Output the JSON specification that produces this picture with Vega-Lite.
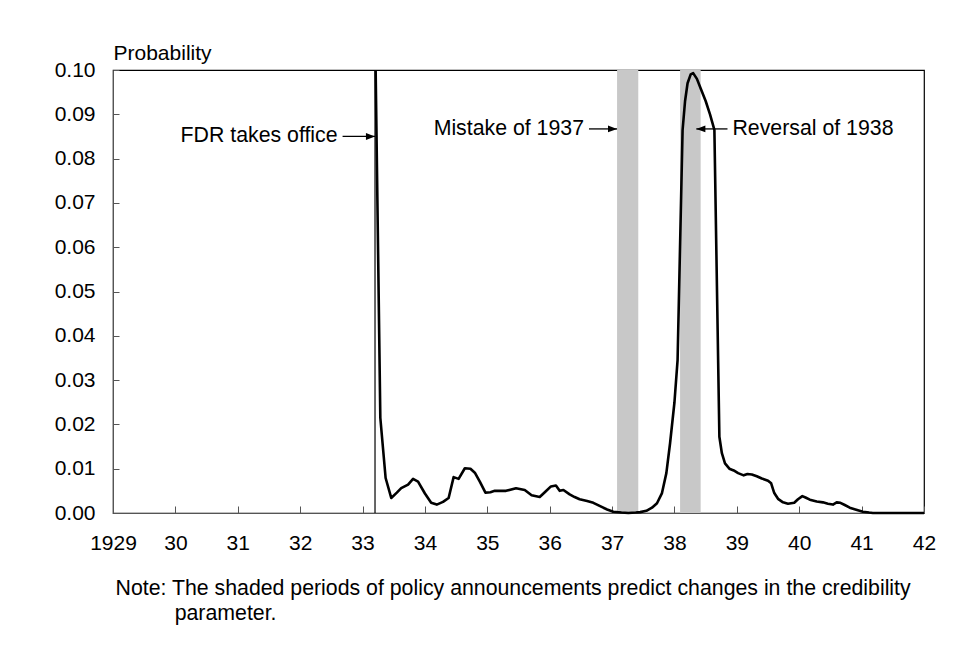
{
  "$schema": "https://vega.github.io/schema/vega-lite/v6.json",
  "autosize": {"type": "none"},
  "width": 811,
  "height": 443,
  "padding": {"left": 113, "top": 70, "right": 50, "bottom": 142},
  "background": "white",
  "config": {
    "font": "Liberation Sans",
    "view": {"stroke": "#000", "strokeWidth": 1.2},
    "axis": {
      "labelFont": "Liberation Sans",
      "titleFont": "Liberation Sans",
      "labelFontSize": 21,
      "titleFontSize": 21,
      "titleFontWeight": "normal",
      "labelColor": "#000",
      "titleColor": "#000",
      "domainColor": "#555",
      "tickColor": "#555",
      "grid": false
    }
  },
  "datasets": {
    "series": [
      {"year": 1933.21, "p": 0.100},
      {"year": 1933.285, "p": 0.0215},
      {"year": 1933.37, "p": 0.0079},
      {"year": 1933.46, "p": 0.0034},
      {"year": 1933.55, "p": 0.0046},
      {"year": 1933.62, "p": 0.0056},
      {"year": 1933.73, "p": 0.0064},
      {"year": 1933.81, "p": 0.0077},
      {"year": 1933.89, "p": 0.0071},
      {"year": 1934.00, "p": 0.0044},
      {"year": 1934.10, "p": 0.0023},
      {"year": 1934.19, "p": 0.0019},
      {"year": 1934.29, "p": 0.0025},
      {"year": 1934.38, "p": 0.0034},
      {"year": 1934.46, "p": 0.0081},
      {"year": 1934.54, "p": 0.0077},
      {"year": 1934.64, "p": 0.0101},
      {"year": 1934.73, "p": 0.0100},
      {"year": 1934.80, "p": 0.0091},
      {"year": 1934.88, "p": 0.0071},
      {"year": 1934.97, "p": 0.0046},
      {"year": 1935.05, "p": 0.0047},
      {"year": 1935.12, "p": 0.0050},
      {"year": 1935.30, "p": 0.0050},
      {"year": 1935.46, "p": 0.0056},
      {"year": 1935.60, "p": 0.0052},
      {"year": 1935.71, "p": 0.0040},
      {"year": 1935.84, "p": 0.0036},
      {"year": 1935.93, "p": 0.0048},
      {"year": 1936.02, "p": 0.0060},
      {"year": 1936.10, "p": 0.0062},
      {"year": 1936.16, "p": 0.0050},
      {"year": 1936.22, "p": 0.0052},
      {"year": 1936.32, "p": 0.0042},
      {"year": 1936.40, "p": 0.0036},
      {"year": 1936.48, "p": 0.0031},
      {"year": 1936.60, "p": 0.0027},
      {"year": 1936.70, "p": 0.0023},
      {"year": 1936.80, "p": 0.0016},
      {"year": 1936.92, "p": 0.0008},
      {"year": 1937.02, "p": 0.0003},
      {"year": 1937.15, "p": 0.0001},
      {"year": 1937.26, "p": 0.0000},
      {"year": 1937.38, "p": 0.0001},
      {"year": 1937.45, "p": 0.0002},
      {"year": 1937.55, "p": 0.0005},
      {"year": 1937.64, "p": 0.0012},
      {"year": 1937.72, "p": 0.0022},
      {"year": 1937.80, "p": 0.0045},
      {"year": 1937.87, "p": 0.0090},
      {"year": 1937.93, "p": 0.0158},
      {"year": 1938.00, "p": 0.0250},
      {"year": 1938.05, "p": 0.0345},
      {"year": 1938.13, "p": 0.0864},
      {"year": 1938.17, "p": 0.0930},
      {"year": 1938.21, "p": 0.0970},
      {"year": 1938.26, "p": 0.0990},
      {"year": 1938.30, "p": 0.0993},
      {"year": 1938.36, "p": 0.0980},
      {"year": 1938.43, "p": 0.0955},
      {"year": 1938.50, "p": 0.0930},
      {"year": 1938.57, "p": 0.0900},
      {"year": 1938.64, "p": 0.0865},
      {"year": 1938.72, "p": 0.0172},
      {"year": 1938.76, "p": 0.0135},
      {"year": 1938.81, "p": 0.0112},
      {"year": 1938.88, "p": 0.0100},
      {"year": 1938.95, "p": 0.0096},
      {"year": 1939.02, "p": 0.0090},
      {"year": 1939.11, "p": 0.0085},
      {"year": 1939.17, "p": 0.0088},
      {"year": 1939.24, "p": 0.0087},
      {"year": 1939.32, "p": 0.0083},
      {"year": 1939.40, "p": 0.0078},
      {"year": 1939.50, "p": 0.0073},
      {"year": 1939.55, "p": 0.0067},
      {"year": 1939.60, "p": 0.0045},
      {"year": 1939.66, "p": 0.0032},
      {"year": 1939.74, "p": 0.0024},
      {"year": 1939.82, "p": 0.0021},
      {"year": 1939.92, "p": 0.0023},
      {"year": 1939.98, "p": 0.0031},
      {"year": 1940.05, "p": 0.0038},
      {"year": 1940.10, "p": 0.0035},
      {"year": 1940.17, "p": 0.0030},
      {"year": 1940.28, "p": 0.0026},
      {"year": 1940.38, "p": 0.0024},
      {"year": 1940.46, "p": 0.0021},
      {"year": 1940.54, "p": 0.0019},
      {"year": 1940.60, "p": 0.0024},
      {"year": 1940.66, "p": 0.0023},
      {"year": 1940.73, "p": 0.0018},
      {"year": 1940.81, "p": 0.0012},
      {"year": 1940.90, "p": 0.0008},
      {"year": 1941.02, "p": 0.0003},
      {"year": 1941.12, "p": 0.0001},
      {"year": 1941.18, "p": 0.0},
      {"year": 1942.00, "p": 0.0}
    ],
    "bands": [
      {"start": 1937.08, "end": 1937.42},
      {"start": 1938.09, "end": 1938.42}
    ],
    "events": [
      {"year": 1933.2}
    ],
    "notesRight": [
      {"label": "FDR takes office", "tail": 1932.68, "tip": 1933.2, "p": 0.085},
      {"label": "Mistake of 1937", "tail": 1936.63, "tip": 1937.08, "p": 0.0867}
    ],
    "notesLeft": [
      {"label": "Reversal of 1938", "tail": 1938.85, "tip": 1938.35, "p": 0.0867}
    ]
  },
  "layer": [
    {
      "data": {"name": "bands"},
      "mark": {"type": "rect", "color": "#c8c8c8"},
      "encoding": {
        "x": {"field": "start", "type": "quantitative", "scale": {"domain": [1929, 1942], "nice": false, "zero": false}},
        "x2": {"field": "end"}
      }
    },
    {
      "data": {"name": "events"},
      "mark": {"type": "rule", "color": "#000", "strokeWidth": 1.2},
      "encoding": {
        "x": {"field": "year", "type": "quantitative"}
      }
    },
    {
      "data": {"name": "series"},
      "mark": {"type": "line", "color": "#000", "strokeWidth": 2.6, "strokeJoin": "round"},
      "encoding": {
        "x": {
          "field": "year", "type": "quantitative",
          "scale": {"domain": [1929, 1942], "nice": false, "zero": false},
          "axis": {
            "values": [1929, 1930, 1931, 1932, 1933, 1934, 1935, 1936, 1937, 1938, 1939, 1940, 1941, 1942],
            "labelExpr": "datum.value == 1929 ? '1929' : substring(toString(datum.value), 2)",
            "tickSize": -7,
            "labelPadding": 26,
            "labelFlush": false,
            "labelOverlap": false,
            "title": ["Note: The shaded periods of policy announcements predict changes in the credibility", "\u200b\u00a0\u00a0\u00a0\u00a0\u00a0\u00a0\u00a0\u00a0\u00a0\u00a0parameter."],
            "titleFontSize": 21.3,
            "titleAngle": 0,
            "titleAlign": "left",
            "titleBaseline": "alphabetic",
            "titleX": 2,
            "titleY": 81,
            "titleLineHeight": 25
          }
        },
        "y": {
          "field": "p", "type": "quantitative",
          "scale": {"domain": [0, 0.1], "nice": false},
          "axis": {
            "values": [0, 0.01, 0.02, 0.03, 0.04, 0.05, 0.06, 0.07, 0.08, 0.09, 0.1],
            "format": ".2f",
            "tickSize": -6,
            "labelPadding": 24,
            "labelFlush": false,
            "labelOverlap": false,
            "title": "Probability",
            "titleAngle": 0,
            "titleAlign": "left",
            "titleBaseline": "alphabetic",
            "titleX": 0,
            "titleY": -11
          }
        }
      }
    },
    {
      "data": {"name": "notesRight"},
      "mark": {"type": "rule", "color": "#000", "strokeWidth": 1.3},
      "encoding": {
        "x": {"field": "tail", "type": "quantitative"},
        "x2": {"field": "tip"},
        "y": {"field": "p", "type": "quantitative"}
      }
    },
    {
      "data": {"name": "notesLeft"},
      "mark": {"type": "rule", "color": "#000", "strokeWidth": 1.3},
      "encoding": {
        "x": {"field": "tail", "type": "quantitative"},
        "x2": {"field": "tip"},
        "y": {"field": "p", "type": "quantitative"}
      }
    },
    {
      "data": {"name": "notesRight"},
      "mark": {"type": "point", "shape": "M0,0L-1,-0.38L-1,0.38Z", "filled": true, "color": "#000", "size": 330, "opacity": 1},
      "encoding": {
        "x": {"field": "tip", "type": "quantitative"},
        "y": {"field": "p", "type": "quantitative"}
      }
    },
    {
      "data": {"name": "notesLeft"},
      "mark": {"type": "point", "shape": "M0,0L1,-0.38L1,0.38Z", "filled": true, "color": "#000", "size": 330, "opacity": 1},
      "encoding": {
        "x": {"field": "tip", "type": "quantitative"},
        "y": {"field": "p", "type": "quantitative"}
      }
    },
    {
      "data": {"name": "notesRight"},
      "mark": {"type": "text", "align": "right", "baseline": "middle", "dx": -5, "fontSize": 21.3, "font": "Liberation Sans", "color": "#000"},
      "encoding": {
        "x": {"field": "tail", "type": "quantitative"},
        "y": {"field": "p", "type": "quantitative"},
        "text": {"field": "label"}
      }
    },
    {
      "data": {"name": "notesLeft"},
      "mark": {"type": "text", "align": "left", "baseline": "middle", "dx": 5, "fontSize": 21.3, "font": "Liberation Sans", "color": "#000"},
      "encoding": {
        "x": {"field": "tail", "type": "quantitative"},
        "y": {"field": "p", "type": "quantitative"},
        "text": {"field": "label"}
      }
    }
  ]
}
